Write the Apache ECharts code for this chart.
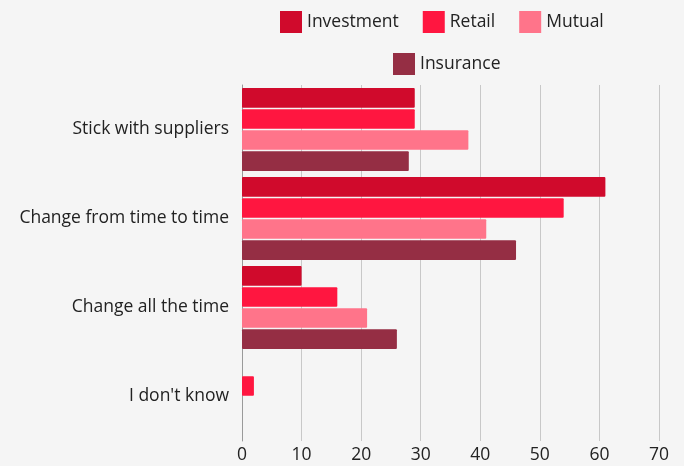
<!DOCTYPE html>
<html>
<head>
<meta charset="utf-8">
<script src="https://cdn.jsdelivr.net/npm/echarts@6/dist/echarts.min.js"></script>
<style>
html,body{margin:0;padding:0;background:#f5f5f5;}
#chart{width:684px;height:466px;}
</style>
</head>
<body>
<div id="chart"></div>
<script>
var categories = ["Stick with suppliers", "Change from time to time", "Change all the time", "I don't know"];
var seriesNames = ["Investment", "Retail", "Mutual", "Insurance"];
var investment = [29, 61, 10, 0];
var retail = [29, 54, 16, 2];
var mutual = [38, 41, 21, 0];
var insurance = [28, 46, 26, 0];
var xTicks = [0, 10, 20, 30, 40, 50, 60, 70];

var colors = ["#d00a2c", "#ff1640", "#ff748a", "#952e44"];
var values = [investment, retail, mutual, insurance];
var font = "Open Sans";
var fs = 17.5;

var chart = echarts.init(document.getElementById('chart'), null, {renderer: 'canvas'});
var series = seriesNames.map(function (n, i) {
  return {
    name: n,
    type: 'bar',
    data: values[i],
    itemStyle: {color: colors[i], borderRadius: 1},
    barGap: '8%',
    barCategoryGap: '7%'
  };
});
var legendCommon = {
  orient: 'horizontal',
  padding: 0,
  itemWidth: 22,
  itemHeight: 22,
  itemGap: 24,
  icon: 'rect',
  textStyle: {fontFamily: font, fontSize: fs, color: '#222'},
  selectedMode: false
};
chart.setOption({
  backgroundColor: '#f5f5f5',
  animation: false,
  color: colors,
  legend: [
    Object.assign({}, legendCommon, {data: seriesNames.slice(0, 3), left: 280, top: 11}),
    Object.assign({}, legendCommon, {data: seriesNames.slice(3), left: 393, top: 53})
  ],
  grid: {left: 242, right: 25, top: 85, bottom: 25, containLabel: false},
  xAxis: {
    type: 'value',
    min: xTicks[0],
    max: xTicks[xTicks.length - 1],
    interval: 10,
    axisLine: {show: false},
    axisTick: {show: false},
    axisLabel: {fontFamily: font, fontSize: fs, color: '#222', margin: 5},
    splitLine: {show: true, lineStyle: {color: '#c8c8c8', width: 1}}
  },
  yAxis: {
    type: 'category',
    data: categories,
    inverse: true,
    axisLine: {show: true, lineStyle: {color: '#9a9a9a', width: 1}},
    axisTick: {show: false},
    axisLabel: {fontFamily: font, fontSize: fs, color: '#222', margin: 13}
  },
  series: series
});
</script>
</body>
</html>
